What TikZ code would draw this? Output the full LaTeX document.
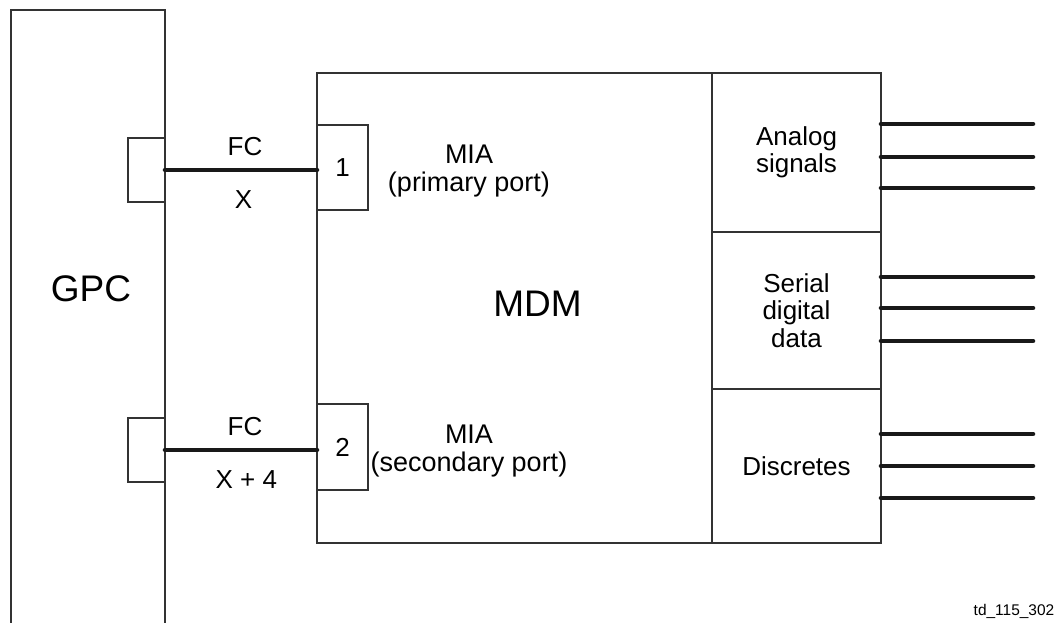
\documentclass[tikz,border=0pt]{standalone}
\usepackage{fontspec}
\setmainfont{Liberation Sans}
\tikzset{
	frame/.style={draw=black!80, line width=1pt, inner sep=0pt, outer sep=0pt},
	blk/.style 2 args={frame, minimum width=0.75pt*#1, minimum height=0.75pt*#2, anchor=north west},
	wire/.style={draw=black!90, line width=3.4pt, line cap=round},
	txt/.style={inner sep=0.75pt, font=\fontsize{19.5}{20.5}\selectfont},
}
\begin{document}
\begin{tikzpicture}[x=0.75pt,y=0.75pt,yscale=-1,xscale=1]
	\clip (0,0) rectangle (1057,623); %picture is 1057 by 623

	%Shape: Rectangle [GPC, open at the bottom]
	\node[blk={154}{660}] (gpc) at (11,10) {};
	%Shape: Rectangle [GPC ports]
	\node[blk={37}{64}] (gport1) at (128,138) {};
	\node[blk={37}{64}] (gport2) at (128,418) {};
	%Shape: Rectangle [MDM]
	\node[blk={564}{470}] (mdm) at (317,73) {};
	%Shape: Rectangle [MDM ports]
	\node[blk={51}{85}, txt] (mport1) at (317,125) {1};
	\node[blk={51}{86}, txt] (mport2) at (317,404) {2};
	%Shape: Rectangle [cards]
	\node[blk={169}{159}, txt, align=center] (ana) at (712,73) {Analog\\signals};
	\node[blk={169}{157}, txt, align=center] (ser) at (712,232) {Serial\\digital\\data};
	\node[blk={169}{154}, txt, align=center] (dis) at (712,389) {Discretes};

	%Straight Lines [FC buses]
	\draw[wire] (gport1.east) -- node[txt, above=8.5pt, xshift=3pt] (fc1) {FC} node[txt, below=13pt, xshift=2pt] (x1) {X} (gport1.east -| mport1.west);
	\draw[wire] (gport2.east) -- node[txt, above=8.5pt, xshift=3pt] (fc2) {FC} node[txt, below=13pt, xshift=4pt] (x2) {X + 4} (gport2.east -| mport2.west);
	%Straight Lines [outputs]
	\foreach \y [count=\i] in {124,157,188,277,308,341,434,466,498} {
		\coordinate (out\i) at (1033,\y);
		\draw[wire] (mdm.east |- out\i) -- (out\i);
	}

	% Text Node
	\node[txt, font=\fontsize{27.75}{30}\selectfont, anchor=base] (gpclbl) at (91,302) {GPC};
	% Text Node
	\node[txt, font=\fontsize{27.75}{30}\selectfont, anchor=base] (mdmlbl) at (537.5,317) {MDM};
	% Text Node
	\node[txt, font=\fontsize{20.25}{20.5}\selectfont, align=center] (mia1) at (469,171) {MIA\\(primary port)};
	% Text Node
	\node[txt, font=\fontsize{20.25}{20.5}\selectfont, align=center] (mia2) at (469,451) {MIA\\(secondary port)};
	% Text Node
	\node[txt, font=\fontsize{11.6}{13}\selectfont, anchor=base] (tag) at (1014,615) {td\_115\_302};

\end{tikzpicture}
\end{document}
